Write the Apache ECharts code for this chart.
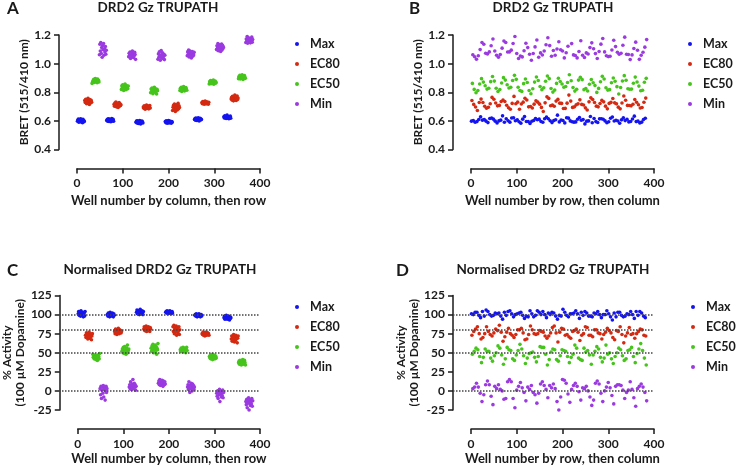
<!DOCTYPE html>
<html>
<head>
<meta charset="utf-8">
<script src="https://cdn.jsdelivr.net/npm/echarts@6/dist/echarts.min.js"></script>
<style>
  html, body { margin: 0; padding: 0; background: #fff; }
  #chart { width: 736px; height: 469px; }
</style>
</head>
<body>
<div id="chart"></div>
<script>
// series names / legend order
var groups = ['Max', 'EC80', 'EC50', 'Min'];
var groupColors = ['#1414f0', '#d42a12', '#46c41c', '#9a3ae0'];

// axes
var xTicks = [0, 100, 200, 300, 400];
var bretTicks = [0.4, 0.6, 0.8, 1.0, 1.2];
var pctTicks = [-25, 0, 25, 50, 75, 100, 125];
var refLines = [100, 80, 50, 0];

// raw BRET ratio, plate order: 6 columns of 16 rows per condition
var maxBret = [
  0.598,0.605,0.612,0.590,0.601,0.596,0.608,0.615,0.593,0.600,0.604,0.587,0.611,0.599,0.602,0.595,
  0.603,0.610,0.598,0.615,0.607,0.596,0.612,0.601,0.606,0.594,0.609,0.617,0.600,0.604,0.611,0.598,
  0.590,0.598,0.585,0.601,0.594,0.582,0.596,0.588,0.603,0.591,0.579,0.595,0.587,0.599,0.593,0.586,
  0.595,0.588,0.600,0.591,0.584,0.597,0.590,0.602,0.586,0.593,0.598,0.589,0.594,0.583,0.596,0.591,
  0.610,0.617,0.605,0.620,0.612,0.603,0.615,0.608,0.622,0.611,0.600,0.614,0.618,0.607,0.613,0.609,
  0.628,0.620,0.635,0.622,0.630,0.617,0.626,0.640,0.619,0.624,0.631,0.615,0.627,0.621,0.633,0.618
];
var ec80Bret = [
  0.742,0.728,0.751,0.735,0.720,0.746,0.731,0.757,0.724,0.738,0.715,0.749,0.733,0.726,0.744,0.730,
  0.715,0.702,0.725,0.709,0.731,0.698,0.717,0.706,0.722,0.694,0.711,0.728,0.703,0.719,0.708,0.713,
  0.697,0.688,0.705,0.692,0.681,0.700,0.694,0.710,0.686,0.698,0.691,0.703,0.684,0.696,0.707,0.690,
  0.672,0.695,0.708,0.681,0.718,0.690,0.665,0.702,0.687,0.712,0.676,0.698,0.722,0.684,0.705,0.693,
  0.728,0.720,0.735,0.722,0.731,0.717,0.726,0.738,0.724,0.719,0.733,0.721,0.729,0.725,0.716,0.730,
  0.752,0.764,0.745,0.771,0.758,0.740,0.768,0.750,0.780,0.747,0.761,0.743,0.756,0.774,0.749,0.759
];
var ec50Bret = [
  0.862,0.871,0.878,0.885,0.890,0.868,0.882,0.895,0.875,0.880,0.888,0.866,0.893,0.877,0.884,0.872,
  0.820,0.845,0.828,0.852,0.835,0.812,0.840,0.826,0.858,0.833,0.818,0.847,0.831,0.839,0.824,0.843,
  0.796,0.822,0.805,0.830,0.812,0.790,0.818,0.801,0.835,0.808,0.826,0.799,0.815,0.788,0.821,0.810,
  0.812,0.828,0.819,0.835,0.806,0.824,0.831,0.815,0.840,0.821,0.809,0.827,0.818,0.833,0.822,0.814,
  0.858,0.874,0.865,0.882,0.860,0.871,0.877,0.862,0.868,0.885,0.856,0.873,0.866,0.879,0.863,0.870,
  0.895,0.910,0.902,0.918,0.893,0.907,0.914,0.898,0.922,0.904,0.889,0.911,0.900,0.916,0.906,0.897
];
var minBret = [
  1.062,1.135,1.088,1.148,1.071,1.112,1.045,1.126,1.097,1.140,1.058,1.104,1.082,1.119,1.066,1.093,
  1.048,1.072,1.059,1.081,1.036,1.066,1.075,1.052,1.088,1.061,1.043,1.070,1.055,1.079,1.064,1.030,
  1.031,1.068,1.045,1.082,1.053,1.024,1.060,1.092,1.040,1.057,1.075,1.036,1.049,1.066,1.028,1.058,
  1.055,1.082,1.063,1.094,1.047,1.071,1.088,1.058,1.076,1.040,1.067,1.085,1.052,1.073,1.061,1.079,
  1.098,1.125,1.108,1.141,1.090,1.117,1.132,1.102,1.121,1.085,1.112,1.136,1.095,1.128,1.106,1.115,
  1.148,1.172,1.158,1.190,1.142,1.165,1.181,1.153,1.205,1.160,1.145,1.176,1.163,1.185,1.150,1.168
];

// % activity (100 uM dopamine), same plate order
var maxPct = [
  101,104,99,103,100,98,105,102,99,101,103,97,100,102,98,104,
  100,98,102,99,101,97,103,100,98,101,99,102,100,97,101,99,
  103,106,101,104,102,105,100,103,107,102,104,101,105,103,100,104,
  103,104,102,105,103,101,104,102,103,105,102,104,101,103,104,102,
  99,100,98,101,99,97,100,98,99,101,98,100,97,99,100,98,
  96,98,94,97,95,99,96,94,97,95,98,96,93,97,95,96
];
var ec80Pct = [
  73,70,76,71,74,68,75,72,77,69,73,71,74,67,72,75,
  78,75,81,77,80,74,79,76,82,78,75,80,77,79,76,78,
  81,84,79,82,80,85,78,83,81,79,84,80,82,78,83,81,
  84,78,86,75,82,80,77,85,73,81,83,76,79,84,74,80,
  75,74,77,73,76,75,72,76,74,77,73,75,76,74,75,73,
  68,72,65,70,67,74,69,64,71,66,73,68,70,63,69,72
];
var ec50Pct = [
  48,44,46,42,47,43,45,41,46,44,40,47,43,45,42,49,
  52,55,50,57,53,49,58,51,54,48,56,52,60,50,53,55,
  56,52,59,54,61,50,57,55,53,60,51,58,48,56,54,62,
  54,52,56,53,55,51,57,54,52,56,53,55,50,54,57,53,
  45,43,47,42,46,44,48,41,45,43,47,44,42,46,45,43,
  37,39,35,40,36,38,34,39,37,41,35,38,36,40,37,34
];
var minPct = [
  3,-5,6,-10,1,5,-3,7,-8,2,4,-12,0,6,-2,3,
  5,8,3,12,6,2,9,4,15,7,3,10,5,8,1,6,
  10,13,8,15,11,7,12,9,14,10,6,13,11,8,12,9,
  5,8,2,12,4,-2,7,3,10,6,0,9,4,7,2,5,
  -3,-7,0,-10,-2,-5,2,-14,-4,-1,-8,-3,-6,1,-9,-2,
  -14,-18,-11,-22,-13,-16,-9,-25,-15,-12,-19,-14,-17,-10,-20,-13
];

var bretSets = [maxBret, ec80Bret, ec50Bret, minBret];
var pctSets = [maxPct, ec80Pct, ec50Pct, minPct];

// well number when read down each column (16 rows), condition t in column block
function byColumn(vals, t) {
  return vals.map(function (v, i) {
    var col = Math.floor(i / 16), row = i % 16;
    return [col * 64 + t * 16 + row + 1, v];
  });
}
// well number when read along each row (24 columns)
function byRow(vals, t) {
  return vals.map(function (v, i) {
    var col = Math.floor(i / 16), row = i % 16;
    return [row * 24 + col * 4 + t + 1, v];
  });
}

var FONT = 'Lato';
var INK = '#1a1a1a';

var panels = [
  {left: 77, top: 35, sets: bretSets, order: byColumn, ticks: bretTicks, name: 'BRET (515/410 nm)', nameGap: 27,
    xName: 'Well number by column, then row', xGap: 26, legendLeft: 295, legendTop: 37},
  {left: 471, top: 35, sets: bretSets, order: byRow, ticks: bretTicks, name: 'BRET (515/410 nm)', nameGap: 28,
    xName: 'Well number by row, then column', xGap: 26, legendLeft: 688, legendTop: 37},
  {left: 77, top: 295.5, sets: pctSets, order: byColumn, ticks: pctTicks, name: '% Activity\n(100 µM Dopamine)', nameGap: 29,
    xName: 'Well number by column, then row', xGap: 23, legendLeft: 295, legendTop: 300},
  {left: 471, top: 295.5, sets: pctSets, order: byRow, ticks: pctTicks, name: '% Activity\n(100 µM Dopamine)', nameGap: 31,
    xName: 'Well number by row, then column', xGap: 23, legendLeft: 691, legendTop: 300}
];

var grids = [], xAxes = [], yAxes = [], series = [], legends = [];

panels.forEach(function (p, pi) {
  var t = p.ticks;
  grids.push({left: p.left, top: p.top, width: 183, height: 114.5});
  xAxes.push({
    gridIndex: pi, type: 'value', min: xTicks[0], max: xTicks[xTicks.length - 1], interval: 100,
    offset: 19, splitLine: {show: false},
    axisLine: {onZero: false, lineStyle: {color: INK, width: 1.5}},
    axisTick: {length: 5, lineStyle: {color: INK, width: 1.5}},
    axisLabel: {margin: 9, color: INK, fontFamily: FONT, fontWeight: 'bold', fontSize: 12},
    name: p.xName, nameLocation: 'middle', nameGap: p.xGap,
    nameTextStyle: {color: INK, fontFamily: FONT, fontWeight: 'bold', fontSize: 13}
  });
  yAxes.push({
    gridIndex: pi, type: 'value', min: t[0], max: t[t.length - 1], interval: t[1] - t[0],
    offset: 18, splitLine: {show: false},
    axisLine: {show: true, onZero: false, lineStyle: {color: INK, width: 1.5}},
    axisTick: {show: true, length: 5, lineStyle: {color: INK, width: 1.5}},
    axisLabel: {
      margin: 8, color: INK, fontFamily: FONT, fontWeight: 'bold', fontSize: 12,
      formatter: pi < 2 ? function (v) { return v.toFixed(1); } : null
    },
    name: p.name, nameLocation: 'middle', nameGap: p.nameGap,
    nameTextStyle: {color: INK, fontFamily: FONT, fontWeight: 'bold', fontSize: 12, lineHeight: 13}
  });
  groups.forEach(function (g, gi) {
    series.push({
      name: g, type: 'scatter', xAxisIndex: pi, yAxisIndex: pi,
      symbolSize: 3.6, itemStyle: {color: groupColors[gi], opacity: 1},
      data: p.order(p.sets[gi], gi), z: 3
    });
  });
  legends.push({
    orient: 'vertical', left: p.legendLeft, top: p.legendTop, selectedMode: false,
    data: groups, icon: 'circle', itemWidth: 4, itemHeight: 4, itemGap: 6, padding: 0,
    textStyle: {color: INK, fontFamily: FONT, fontWeight: 'bold', fontSize: 12.5, lineHeight: 14, padding: [0, 0, 0, 6]}
  });
});

// hidden grids that reach back to the y axis line, carrying the dotted reference lines
[{left: 59, width: 201}, {left: 453, width: 201}].forEach(function (h, hi) {
  var gi = 4 + hi;
  grids.push({left: h.left, top: 295.5, width: h.width, height: 114.5});
  xAxes.push({gridIndex: gi, type: 'value', min: 0, max: 1, show: false});
  yAxes.push({gridIndex: gi, type: 'value', min: pctTicks[0], max: pctTicks[pctTicks.length - 1], show: false});
  series.push({
    type: 'scatter', xAxisIndex: gi, yAxisIndex: gi, data: [], z: 1,
    markLine: {
      silent: true, symbol: ['none', 'none'], label: {show: false},
      lineStyle: {type: 'dotted', color: '#444', width: 1.5},
      data: refLines.map(function (v) { return {yAxis: v}; })
    }
  });
});

function titleText(text, left, top, size, align) {
  return {
    text: text, left: left, top: top, padding: 0, textAlign: align || 'left',
    textStyle: {color: INK, fontFamily: FONT, fontWeight: 'bold', fontSize: size}
  };
}

var chart = echarts.init(document.getElementById('chart'));
chart.setOption({
  animation: false,
  backgroundColor: '#fff',
  title: [
    titleText('A', 7, 0, 17),
    titleText('DRD2 Gz TRUPATH', 158, 1, 13.5, 'center'),
    titleText('B', 409, 0, 17),
    titleText('DRD2 Gz TRUPATH', 553, 1, 13.5, 'center'),
    titleText('C', 7, 262, 17),
    titleText('Normalised DRD2 Gz TRUPATH', 160, 263, 13.5, 'center'),
    titleText('D', 396, 262, 17),
    titleText('Normalised DRD2 Gz TRUPATH', 553, 263, 13.5, 'center')
  ],
  legend: legends,
  grid: grids,
  xAxis: xAxes,
  yAxis: yAxes,
  series: series
});
</script>
</body>
</html>
